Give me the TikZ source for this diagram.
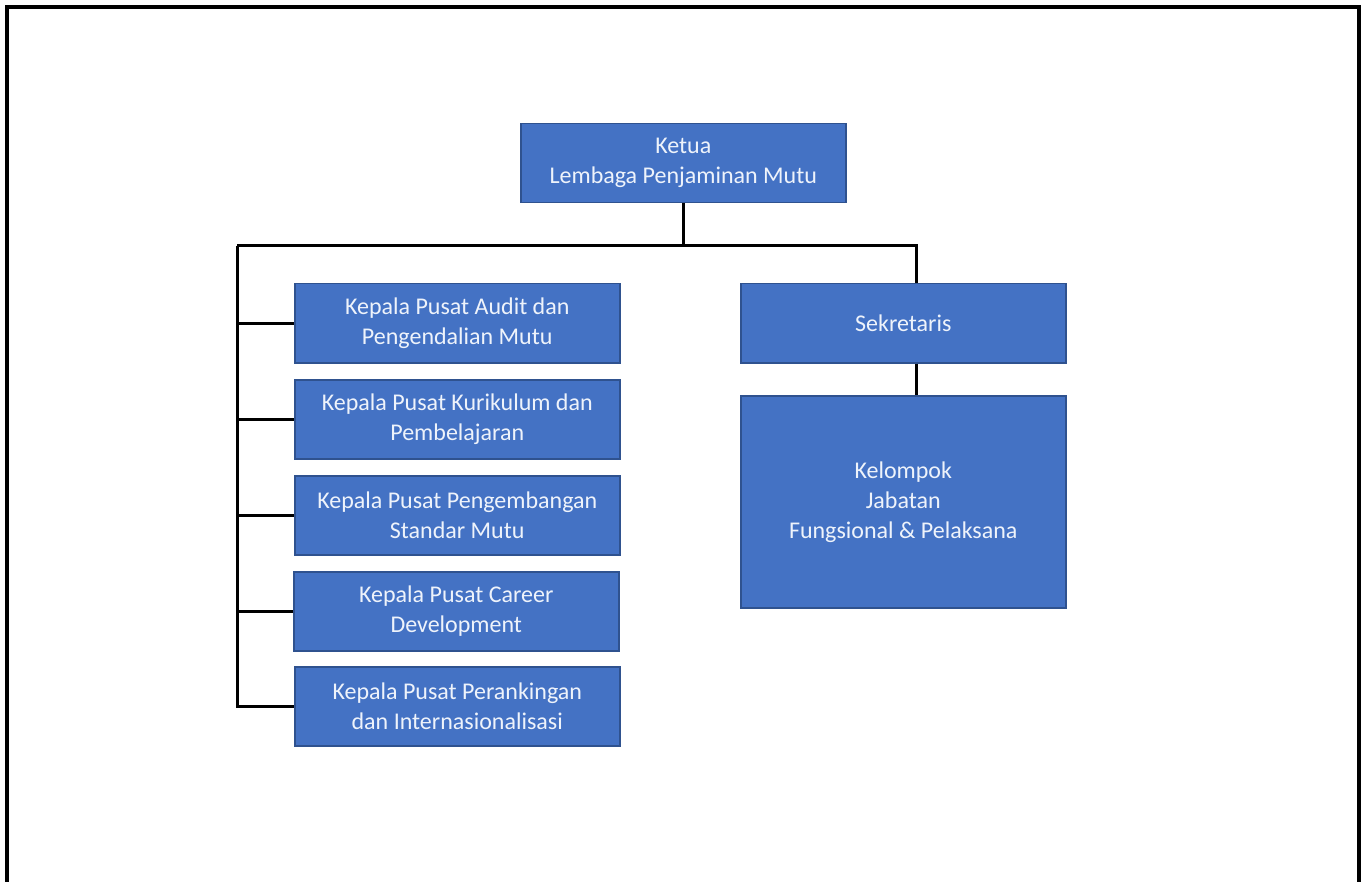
\documentclass[tikz,border=0pt]{standalone}
\usepackage{fontspec}
\setmainfont{Carlito}
\definecolor{boxblue}{HTML}{4472C4}
\definecolor{boxedge}{HTML}{2F528F}
\definecolor{boxtext}{HTML}{EEF3FB}
\tikzset{
  unit/.style={draw=boxedge, fill=boxblue, line width=1.5pt, text=boxtext,
    align=center, inner sep=0pt, anchor=north west,
    minimum width=325pt, minimum height=79pt,
    font=\fontsize{24}{30}\selectfont},
  link/.style={line width=3pt}
}

\begin{document}
\begin{tikzpicture}[x=1pt, y=-1pt]
	\useasboundingbox (0,0) rectangle (1364,882);
	% frame
	\draw [line width=4.5pt] (7,882) -- (7,7) -- (1359,7) -- (1359,882);
	% top
	\node [unit] (ketua) at (520,123) {Ketua\\Lembaga Penjaminan Mutu};
	% left column
	\node [unit] (audit) at (294,283) {Kepala Pusat Audit dan\\Pengendalian Mutu};
	\node [unit] (kurikulum) at (294,379) {Kepala Pusat Kurikulum dan\\Pembelajaran};
	\node [unit] (standar) at (294,475) {Kepala Pusat Pengembangan\\Standar Mutu};
	\node [unit] (career) at (293,571) {Kepala Pusat Career\\Development};
	\node [unit] (ranking) at (294,666) {Kepala Pusat Perankingan\\dan Internasionalisasi};
	% right column
	\node [unit] (sekretaris) at (740,283) {Sekretaris};
	\node [unit, minimum height=212pt] (kelompok) at (740,395)
	  {Kelompok\\Jabatan\\Fungsional \& Pelaksana};
	% connectors
	\coordinate (busL) at (237,246);
	\coordinate (busR) at (916,246);
	\draw [link] (ketua.south) -- (ketua.south |- busL);
	\draw [link] (busL) -- (busR) -- (busR |- sekretaris.north);
	\draw [link] (busR |- sekretaris.south) -- (busR |- kelompok.north);
	\draw [link] (busL) |- (ranking.west);
	\foreach \n in {audit, kurikulum, standar, career}
	  \draw [link] (busL |- \n.west) -- (\n.west);
\end{tikzpicture}
\end{document}
